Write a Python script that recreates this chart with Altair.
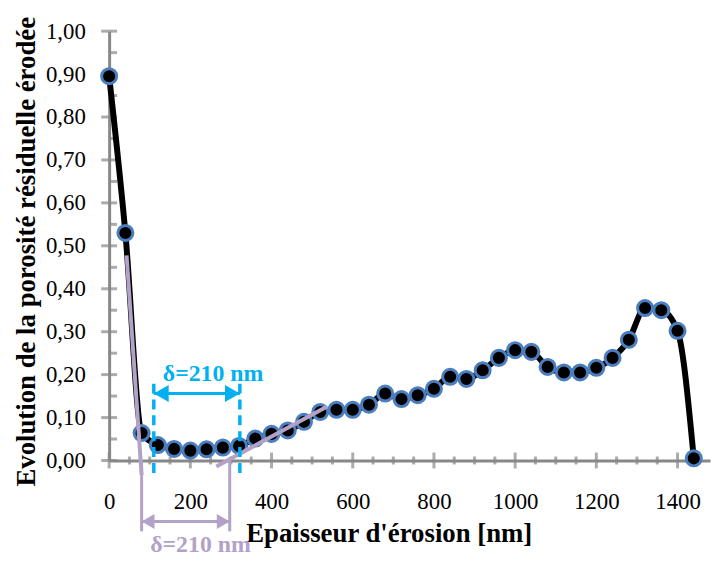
import altair as alt
import pandas as pd

# ---- data ----
thickness = [0, 40, 80, 120, 160, 200, 240, 280, 320, 360, 400, 440, 480, 520,
             560, 600, 640, 680, 720, 760, 800, 840, 880, 920, 960, 1000, 1040,
             1080, 1120, 1160, 1200, 1240, 1280, 1320, 1360, 1400, 1440]
porosity = [0.895, 0.53, 0.064, 0.036, 0.027, 0.023, 0.026, 0.030, 0.034, 0.051,
            0.062, 0.070, 0.090, 0.113, 0.118, 0.118, 0.130, 0.156, 0.143, 0.152,
            0.167, 0.195, 0.190, 0.210, 0.239, 0.257, 0.253, 0.218, 0.205, 0.205,
            0.216, 0.239, 0.281, 0.355, 0.350, 0.302, 0.005]

y_major = [0.0, 0.1, 0.2, 0.3, 0.4, 0.5, 0.6, 0.7, 0.8, 0.9, 1.0]
y_minor = [0.05, 0.15, 0.25, 0.35, 0.45, 0.55, 0.65, 0.75, 0.85, 0.95]
x_major = [0, 200, 400, 600, 800, 1000, 1200, 1400]
x_minor = [50, 100, 150, 250, 300, 350, 450, 500, 550, 650, 700, 750, 850, 900,
           950, 1050, 1100, 1150, 1250, 1300, 1350, 1450]

# tangent lines (purple)
tan_x1 = [43, 264]
tan_y1 = [0.478, -0.014]
tan_x2 = [80, 537]
tan_y2 = [-0.034, 0.126]

# purple construction (vertical lines, arrow, label)
p_vx = [80, 297]
p_vtop = [0.0, 0.0]
p_vbot = [-0.165, -0.165]
p_arrow_y = -0.142
p_label = "δ=210 nm"
p_label_x = 225
p_label_y = -0.198

# blue construction (dashed lines, arrow, label)
b_vx = [110, 322]
b_vtop = [0.179, 0.179]
b_vbot = [-0.037, -0.037]
b_arrow_y = 0.156
b_label = "δ=210 nm"
b_label_x = 256
b_label_y = 0.202

PURPLE = "#b3a2c7"
BLUE = "#00b0f0"
GREY = "#888888"
FONT = "Liberation Serif"

xs = alt.Scale(domain=[0, 1480], nice=False, zero=False)
ys = alt.Scale(domain=[0, 1.0], nice=False, zero=False)

X_AXIS = alt.Axis(
    values=x_major, ticks=False, labelPadding=30, format="d", labelFlush=False,
    title="Epaisseur d'érosion [nm]", titleX=282, titleY=74,
    titleBaseline="middle", titleAlign="center")
Y_AXIS = alt.Axis(
    values=y_major, ticks=False, labelPadding=24, labelFlush=False,
    labelExpr="replace(format(datum.value, '.2f'), '.', ',')",
    title="Evolution de la porosité résiduelle érodée",
    titleX=-83, titleY=222, titleAngle=-90,
    titleBaseline="middle", titleAlign="center")

df = pd.DataFrame({"x": thickness, "y": porosity})

X = lambda f: alt.X(f, type="quantitative", scale=xs, axis=X_AXIS)
Y = lambda f: alt.Y(f, type="quantitative", scale=ys, axis=Y_AXIS)

ytm = alt.Chart(pd.DataFrame({"v": y_major})).mark_tick(
    orient="horizontal", size=16, thickness=3, color=GREY, clip=False
).encode(x=alt.datum(0, scale=xs, axis=X_AXIS), y=Y("v"))
ytn = alt.Chart(pd.DataFrame({"v": y_minor})).mark_tick(
    orient="horizontal", size=8, thickness=3, color=GREY, clip=False, xOffset=4
).encode(x=alt.datum(0, scale=xs, axis=X_AXIS), y=Y("v"))
xtm = alt.Chart(pd.DataFrame({"v": x_major})).mark_tick(
    orient="vertical", size=16, thickness=3, color=GREY, clip=False
).encode(x=X("v"), y=alt.datum(0, scale=ys, axis=Y_AXIS))
xtn = alt.Chart(pd.DataFrame({"v": x_minor})).mark_tick(
    orient="vertical", size=8, thickness=3, color=GREY, clip=False
).encode(x=X("v"), y=alt.datum(0, scale=ys, axis=Y_AXIS))

line = alt.Chart(df).mark_line(
    color="black", strokeWidth=6, interpolate="monotone", clip=False
).encode(x=X("x"), y=Y("y"))

points = alt.Chart(df).mark_point(
    shape="circle", filled=True, fill="black", stroke="#4a7ebf",
    strokeWidth=3, size=230, opacity=1, fillOpacity=1, strokeOpacity=1, clip=False
).encode(x=X("x"), y=Y("y"))

tan_df = pd.DataFrame({"x1": tan_x1, "y1": tan_y1, "x2": tan_x2, "y2": tan_y2})
tangents = alt.Chart(tan_df).mark_rule(
    color=PURPLE, strokeWidth=4, clip=False
).encode(x=X("x1"), y=Y("y1"), x2="x2:Q", y2="y2:Q")

pv_df = pd.DataFrame({"x": p_vx, "t": p_vtop, "b": p_vbot})
p_vert = alt.Chart(pv_df).mark_rule(
    color=PURPLE, strokeWidth=3, clip=False
).encode(x=X("x"), y=Y("t"), y2="b:Q")

pa_df = pd.DataFrame({"x1": [p_vx[0]], "x2": [p_vx[1]], "y": [p_arrow_y]})
p_shaft = alt.Chart(pa_df).mark_rule(
    color=PURPLE, strokeWidth=3, clip=False
).encode(x=X("x1"), x2="x2:Q", y=Y("y"))
p_headL = alt.Chart(pa_df).mark_point(
    shape="triangle-left", filled=True, color=PURPLE, size=225, opacity=1,
    xOffset=6.5, clip=False
).encode(x=X("x1"), y=Y("y"))
p_headR = alt.Chart(pa_df).mark_point(
    shape="triangle-right", filled=True, color=PURPLE, size=225, opacity=1,
    xOffset=-6.5, clip=False
).encode(x=X("x2"), y=Y("y"))
p_text = alt.Chart(pd.DataFrame({"x": [p_label_x], "y": [p_label_y], "t": [p_label]})).mark_text(
    font=FONT, fontSize=24, fontWeight="bold", color=PURPLE,
    align="center", baseline="middle", clip=False
).encode(x=X("x"), y=Y("y"), text="t:N")

bv_df = pd.DataFrame({"x": b_vx, "t": b_vtop, "b": b_vbot})
b_vert = alt.Chart(bv_df).mark_rule(
    color=BLUE, strokeWidth=3.5, strokeDash=[10, 6], clip=False
).encode(x=X("x"), y=Y("t"), y2="b:Q")

ba_df = pd.DataFrame({"x1": [b_vx[0]], "x2": [b_vx[1]], "y": [b_arrow_y]})
b_shaft = alt.Chart(ba_df).mark_rule(
    color=BLUE, strokeWidth=3, clip=False
).encode(x=X("x1"), x2="x2:Q", y=Y("y"))
b_headL = alt.Chart(ba_df).mark_point(
    shape="triangle-left", filled=True, color=BLUE, size=300, opacity=1,
    xOffset=7.5, clip=False
).encode(x=X("x1"), y=Y("y"))
b_headR = alt.Chart(ba_df).mark_point(
    shape="triangle-right", filled=True, color=BLUE, size=300, opacity=1,
    xOffset=-7.5, clip=False
).encode(x=X("x2"), y=Y("y"))
b_text = alt.Chart(pd.DataFrame({"x": [b_label_x], "y": [b_label_y], "t": [b_label]})).mark_text(
    font=FONT, fontSize=24, fontWeight="bold", color=BLUE,
    align="center", baseline="middle", clip=False
).encode(x=X("x"), y=Y("y"), text="t:N")

chart = alt.layer(
    ytm, ytn, xtm, xtn, line, points,
    tangents, p_vert, p_shaft, p_headL, p_headR, p_text,
    b_vert, b_shaft, b_headL, b_headR, b_text,
).properties(
    width=606, height=433,
    autosize=alt.AutoSizeParams(type="none"),
    padding={"left": 102, "top": 21, "right": 2, "bottom": 98},
    background="white",
).configure_view(stroke=None).configure_axis(
    domainColor=GREY, domainWidth=3, grid=False,
    labelFont=FONT, labelFontSize=23, labelColor="black",
    titleFont=FONT, titleFontSize=27, titleFontWeight="bold", titleColor="black",
)

chart.save("out.html", embed_options={"renderer": "svg", "actions": False})
